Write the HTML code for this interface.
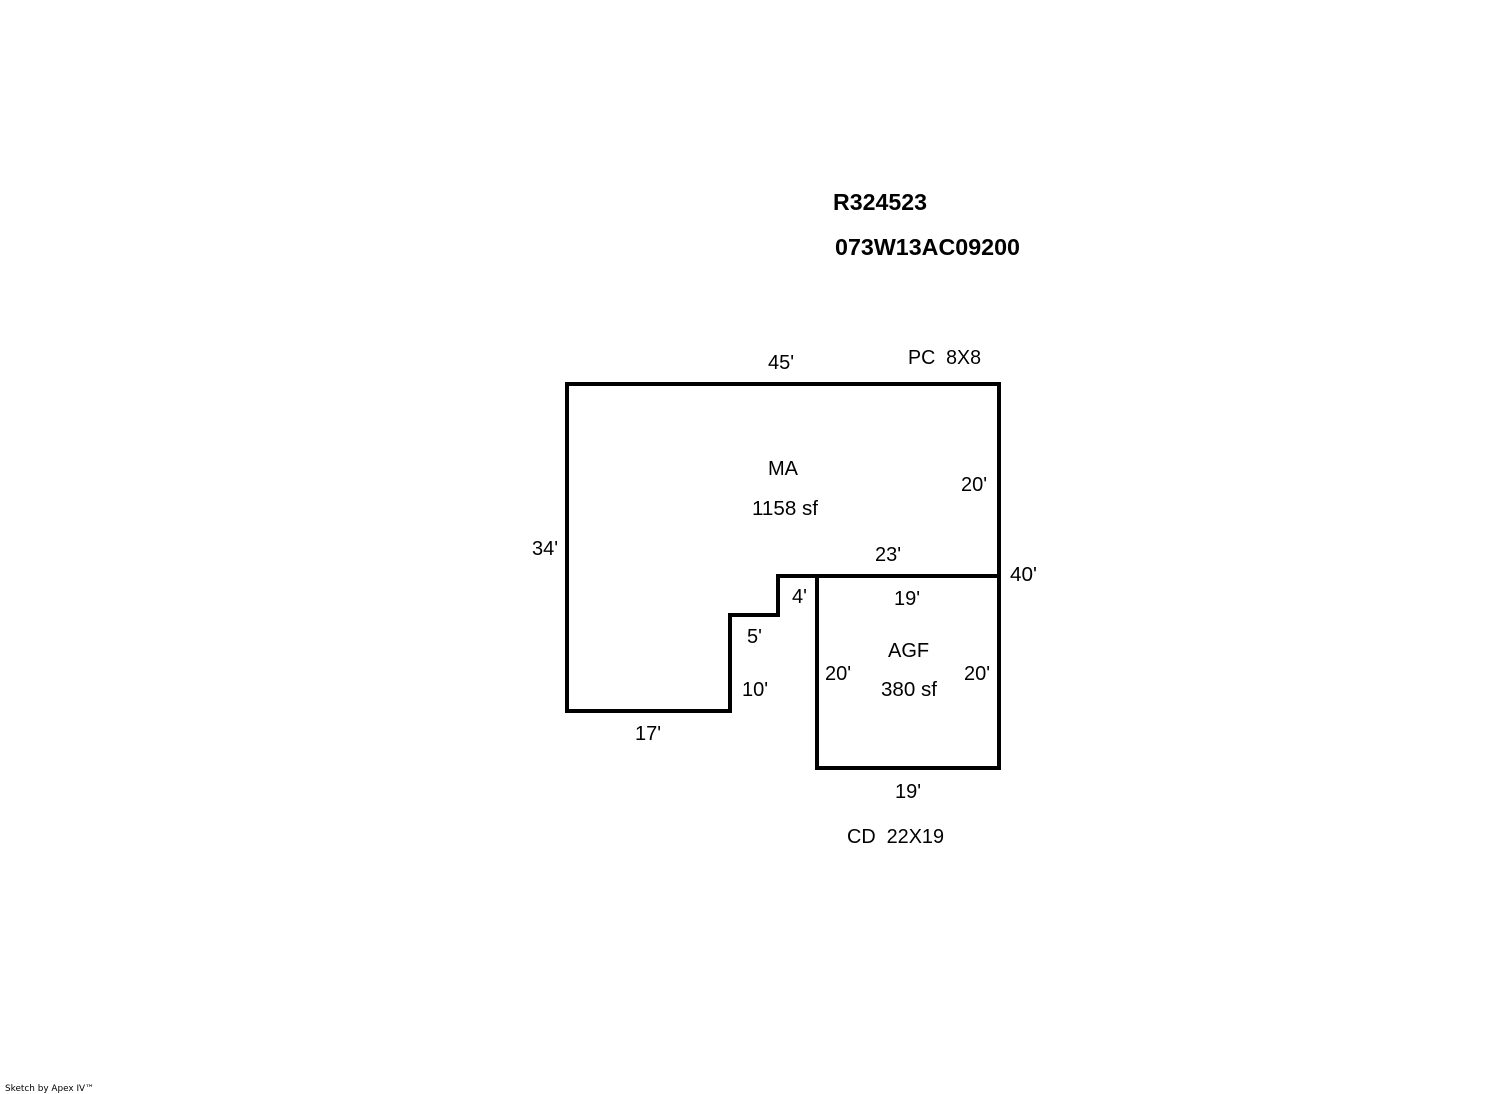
<!DOCTYPE html>
<html>
<head>
<meta charset="utf-8">
<style>
html,body{margin:0;padding:0;background:#fff;width:1492px;height:1094px;overflow:hidden}
svg{display:block}
text{font-family:"Liberation Sans",Arial,sans-serif;font-size:20px;fill:#000;white-space:pre}
.b{font-weight:bold;font-size:23px}
.s{font-family:"DejaVu Sans",sans-serif;font-size:9px}
</style>
</head>
<body>
<svg width="1492" height="1094" viewBox="0 0 1492 1094" xmlns="http://www.w3.org/2000/svg">
<rect width="1492" height="1094" fill="#fff"/>
<g fill="none" stroke="#000" stroke-width="4" stroke-linecap="square" stroke-linejoin="miter">
<path d="M567 384H999V768H817V576"/>
<path d="M999 576H778V615H730V711H567V384"/>
</g>
<text class="b" x="833" y="210" textLength="94" lengthAdjust="spacingAndGlyphs">R324523</text>
<text class="b" x="835" y="255" textLength="185" lengthAdjust="spacingAndGlyphs">073W13AC09200</text>
<text x="768" y="369">45'</text>
<text x="908" y="364" textLength="73" lengthAdjust="spacingAndGlyphs">PC  8X8</text>
<text x="768" y="475">MA</text>
<text x="752" y="515" textLength="66" lengthAdjust="spacingAndGlyphs">1158 sf</text>
<text x="961" y="491">20'</text>
<text x="532" y="555">34'</text>
<text x="875" y="561">23'</text>
<text x="1010" y="581" textLength="27" lengthAdjust="spacingAndGlyphs">40'</text>
<text x="894" y="605">19'</text>
<text x="792" y="603">4'</text>
<text x="747" y="643">5'</text>
<text x="825" y="680">20'</text>
<text x="888" y="657">AGF</text>
<text x="964" y="680">20'</text>
<text x="881" y="696" textLength="56" lengthAdjust="spacingAndGlyphs">380 sf</text>
<text x="742" y="696">10'</text>
<text x="635" y="740">17'</text>
<text x="895" y="798">19'</text>
<text x="847" y="843" textLength="97" lengthAdjust="spacingAndGlyphs">CD  22X19</text>
<text class="s" x="5" y="1091" textLength="89" lengthAdjust="spacingAndGlyphs">Sketch by Apex IV™</text>
</svg>
</body>
</html>
